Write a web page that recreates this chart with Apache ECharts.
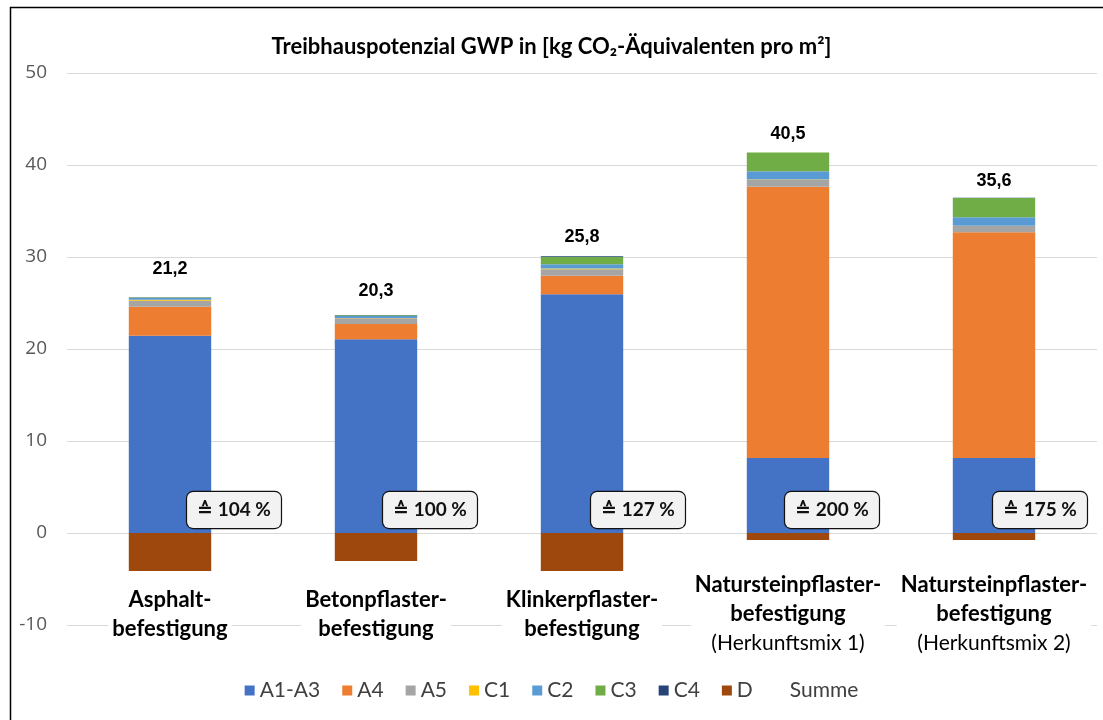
<!DOCTYPE html>
<html><head><meta charset="utf-8">
<script src="https://cdn.jsdelivr.net/npm/echarts@6/dist/echarts.min.js"></script>
<style>html,body{margin:0;padding:0;background:#fff}#c{width:1103px;height:720px}</style>
</head><body><div id="c"></div>
<script>
// ---- data ----
const categories = ['Asphalt-\nbefestigung', 'Betonpflaster-\nbefestigung', 'Klinkerpflaster-\nbefestigung', 'Natursteinpflaster-\nbefestigung', 'Natursteinpflaster-\nbefestigung'];
const subLabels = ['', '', '', '(Herkunftsmix 1)', '(Herkunftsmix 2)'];
const A1_A3 = [21.45, 21.05, 25.95, 8.15, 8.15];
const A4 = [3.15, 1.66, 2.02, 29.49, 24.53];
const A5 = [0.65, 0.62, 0.69, 0.73, 0.68];
const C1 = [0.10, 0.05, 0.10, 0.05, 0.05];
const C2 = [0.20, 0.20, 0.45, 0.90, 0.90];
const C3 = [0.05, 0.10, 0.80, 2.03, 2.10];
const C4 = [0.02, 0.02, 0.08, 0.02, 0.02];
const D = [-4.13, -3.04, -4.13, -0.76, -0.76];
const summe = [21.2, 20.3, 25.8, 40.5, 35.6];
const percentLabels = ['104 %', '100 %', '127 %', '200 %', '175 %'];
const yTicks = [-10, 0, 10, 20, 30, 40, 50];

// ---- styles ----
const FONT = "Lato, 'Open Sans', 'DejaVu Sans', sans-serif";
const seriesDefs = [
  ['A1-A3', A1_A3, '#4472C4'],
  ['A4', A4, '#ED7D31'],
  ['A5', A5, '#A5A5A5'],
  ['C1', C1, '#FFC000'],
  ['C2', C2, '#5B9BD5'],
  ['C3', C3, '#70AD47'],
  ['C4', C4, '#264478'],
  ['D', D, '#9E480E']
];
const summeLift = [19, 15, 10, 9, 8];
const boxDx = [64, 54, 56, 44, 46];

const positiveTop = categories.map((_, i) =>
  seriesDefs.reduce((s, d) => s + (d[1][i] > 0 ? d[1][i] : 0), 0));

const series = seriesDefs.map(([name, data, color]) => ({
  name, type: 'bar', stack: 'gwp', data, barWidth: '40%',
  itemStyle: { color }, emphasis: { disabled: true }
}));

series.push({
  name: 'Summe', type: 'scatter', symbolSize: 0, silent: true,
  itemStyle: { color: '#fff', opacity: 1 },
  emphasis: { disabled: true },
  data: positiveTop.map((v, i) => ({
    value: [i, v],
    label: { distance: summeLift[i] }
  })),
  label: {
    show: true, position: 'top', opacity: 1,
    fontFamily: "'Liberation Sans', Arial, sans-serif", fontWeight: 'bold', fontSize: 18, color: '#000',
    formatter: p => summe[p.dataIndex].toFixed(1).replace('.', ',')
  },
  z: 5
});

series.push({
  name: 'pct', type: 'scatter', symbolSize: 0, silent: true,
  itemStyle: { color: '#fff', opacity: 1 },
  emphasis: { disabled: true },
  data: percentLabels.map((t, i) => ({
    value: [i, 0],
    label: { offset: [boxDx[i], -23] }
  })),
  label: {
    show: true, position: 'inside', opacity: 1,
    formatter: p => '\u2259 ' + percentLabels[p.dataIndex],
    fontFamily: FONT, fontWeight: 'bold', fontSize: 19, color: '#111',
    textBorderWidth: 0,
    backgroundColor: '#f2f2f2', borderColor: '#111', borderWidth: 1.2, borderRadius: 6,
    padding: [9, 10, 8, 10]
  },
  z: 10
});

const chart = echarts.init(document.getElementById('c'), null, { renderer: 'canvas' });
chart.setOption({
  animation: false,
  backgroundColor: '#fff',
  title: {
    text: 'Treibhauspotenzial GWP in [kg CO\u2082-\u00c4quivalenten pro m\u00b2]',
    left: 'center', top: 31,
    textStyle: { fontFamily: FONT, fontWeight: 'bold', fontSize: 22, color: '#000' }
  },
  graphic: [{
    type: 'rect', left: 8, top: 5, z: 100,
    shape: { width: 1110, height: 730 },
    style: { fill: 'none', stroke: '#000', lineWidth: 1.5 }
  }],
  legend: {
    bottom: 14, left: 'center', itemWidth: 10, itemHeight: 10, itemGap: 22,
    textStyle: { fontFamily: FONT, fontSize: 21, color: '#404040' },
    data: seriesDefs.map(d => ({ name: d[0], icon: 'rect' }))
      .concat([{ name: 'Summe', icon: 'rect', itemStyle: { color: 'transparent' } }])
  },
  grid: { left: 67, right: 6, top: 73, bottom: 95, containLabel: false },
  xAxis: {
    type: 'category', data: categories,
    axisLine: { show: false }, axisTick: { show: false },
    axisLabel: {
      interval: 0, margin: -11, verticalAlign: 'middle',
      backgroundColor: '#fff', padding: [0, 4],
      formatter: (v, idx) => v.split('\n').map(s => '{b|' + s + '}').join('\n') +
        (subLabels[idx] ? '\n{n|' + subLabels[idx] + '}' : ''),
      rich: {
        b: { fontFamily: FONT, fontWeight: 'bold', fontSize: 22, color: '#000', lineHeight: 29 },
        n: { fontFamily: FONT, fontWeight: 'normal', fontSize: 21, color: '#000', lineHeight: 29 }
      }
    },
    z: 3
  },
  yAxis: {
    type: 'value', min: yTicks[0], max: yTicks[yTicks.length - 1], interval: 10,
    axisLine: { show: false }, axisTick: { show: false },
    axisLabel: { margin: 20, fontFamily: "'Open Sans', sans-serif", fontSize: 19, color: '#595959' },
    splitLine: { lineStyle: { color: '#d9d9d9', width: 1 } }
  },
  series
});
</script>
</body></html>
